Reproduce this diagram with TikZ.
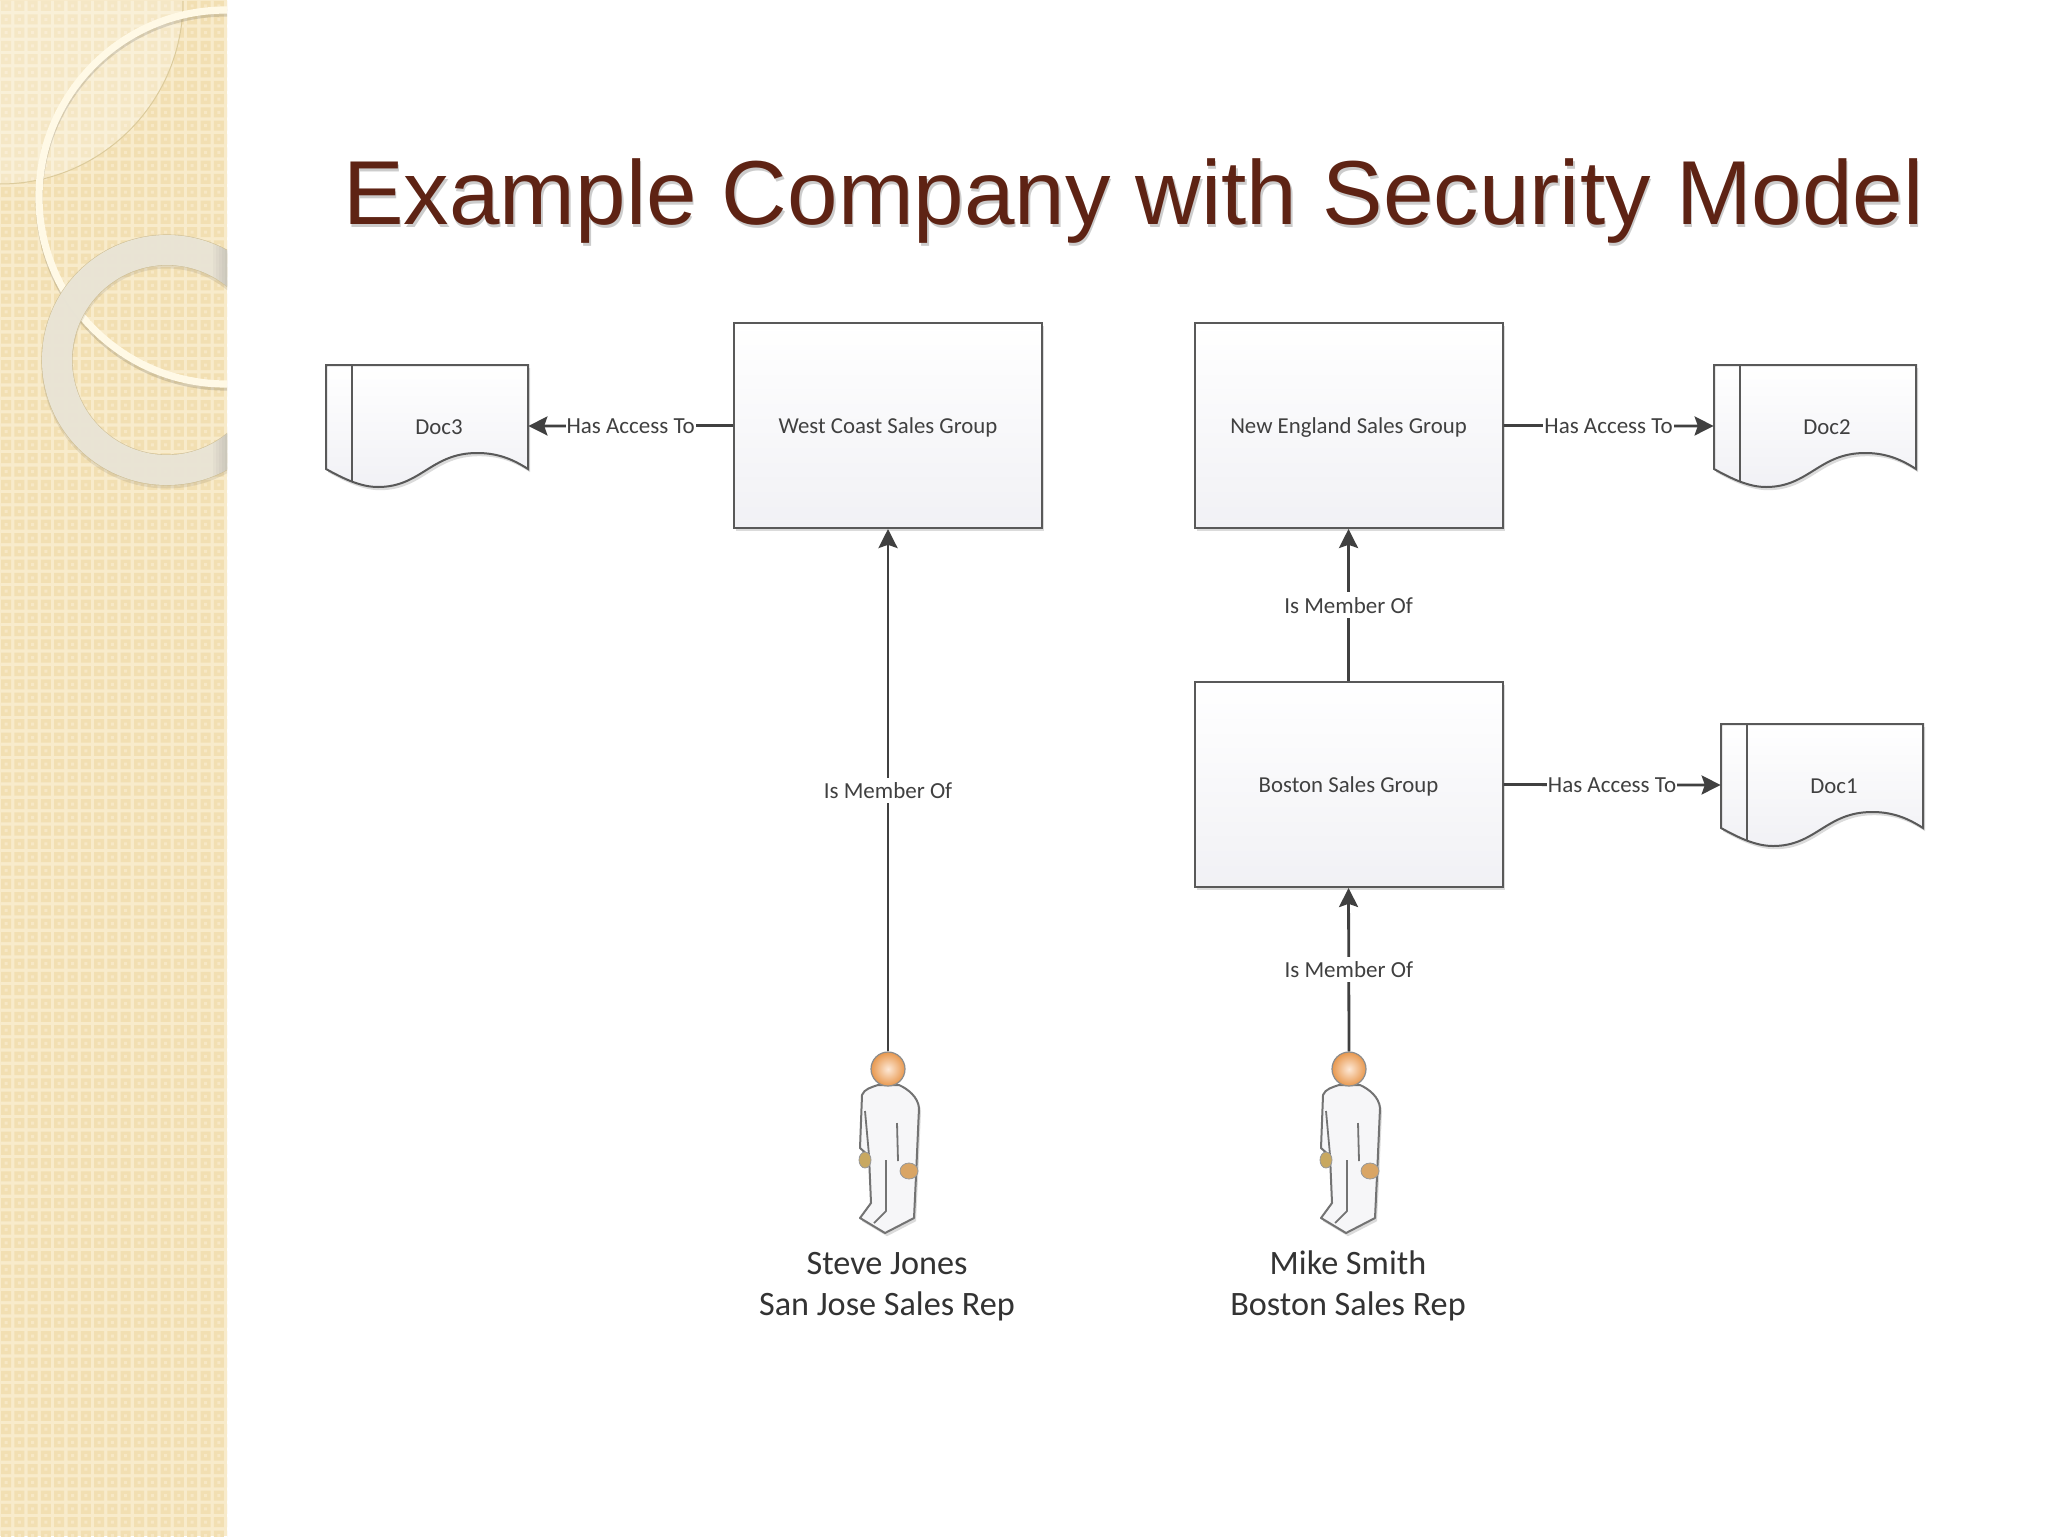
\documentclass[tikz,border=0pt]{standalone}
\usepackage{fontspec}
\setmainfont{Carlito}
\newfontfamily\titlefont{Liberation Sans}
\usetikzlibrary{arrows.meta,shadows}
\definecolor{panelbase}{HTML}{F8EBCB}
\definecolor{paneldark}{HTML}{F2DFB2}
\definecolor{panelin}{HTML}{F7E8C6}
\definecolor{titlecol}{HTML}{5E2314}
\definecolor{inkcol}{HTML}{404040}
\definecolor{edgecol}{HTML}{595959}
\definecolor{ringcol}{HTML}{ECE8DB}
\definecolor{ringedge}{HTML}{CDBE96}
\definecolor{lensedge}{HTML}{DCCB9C}
\definecolor{thinring}{HTML}{FFF9E6}
\definecolor{boxlow}{HTML}{F1F1F5}
\definecolor{headin}{HTML}{FDE8D6}
\definecolor{headout}{HTML}{E8984E}
\definecolor{suit}{HTML}{F6F6F8}
\definecolor{handl}{HTML}{C8A860}
\definecolor{handr}{HTML}{D9A565}
\tikzset{
  x=0.5pt,y=-0.5pt,
  softshadow/.style={general shadow={shadow xshift=1pt,shadow yshift=-1.6pt,fill=black,opacity=.14}},
  groupbox/.style={draw=edgecol,line width=1pt,minimum width=154pt,minimum height=102.5pt,inner sep=0pt,
    top color=white,bottom color=boxlow,softshadow,text=inkcol,text height=10.4pt,text depth=2.3pt,
    font=\fontsize{11.4}{13}\selectfont},
  docanchor/.style={minimum width=101pt,minimum height=61pt,inner sep=0pt},
  docbody/.style={draw=edgecol,line width=1pt,top color=white,bottom color=boxlow,softshadow},
  doctext/.style={text=inkcol,font=\fontsize{11.4}{13}\selectfont,inner sep=0pt,text height=10.4pt,text depth=2.3pt},
  linktext/.style={fill=white,text=inkcol,font=\fontsize{11.5}{13}\selectfont,inner xsep=.5pt,inner ysep=0pt,
    text height=10.4pt,text depth=2.3pt},
  link/.style={draw=inkcol,line width=1.4pt,-{Stealth[length=9.5pt,width=9.5pt,inset=1.6pt]}},
  namelabel/.style={align=center,text=black!80,font=\fontsize{17.1}{20.5}\selectfont,inner sep=0pt},
  personhead/.style={circle,minimum size=17pt,inner sep=0pt,draw=black!45,line width=.6pt,
    inner color=headin,outer color=headout},
  personbody/.style={draw=black!55,line width=1pt,fill=suit,line join=round},
  personline/.style={draw=black!55,line width=.9pt,line join=round},
}
\newcommand\docfig[4]{%
  \path[docbody,shift={(#2,#3)}] (0,0) -- (202,0) -- (202,104)
    .. controls (185,93) and (170,88) .. (151,88)
    .. controls (105,88) and (95,122) .. (52,122)
    .. controls (35,122) and (18,114) .. (0,104) -- cycle;
  \draw[draw=edgecol,line width=1pt,shift={(#2,#3)}] (26,0) -- (26,117);
  \node[docanchor] (#1) at (#2+101,#3+61) {};
  \node[doctext] (#1text) at (#2+113,#3+61) {#4};
}
\newcommand\personfig[3]{%
  \begin{scope}[shift={(#2,#3)}]
    \path[personbody,softshadow] (-10,16) .. controls (-16,18) and (-24,20) .. (-26,26) -- (-28,79) -- (-19,87) -- (-17,134) -- (-28,149)
      -- (-3,164) -- (26,149) -- (28,107) -- (31,39) .. controls (30,28) and (20,20) .. (11,16) -- cycle;
    \draw[personline] (-23,42) -- (-19,86);
    \draw[personline] (9,54) -- (10,92);
    \draw[personline] (-2,91) -- (-2,142) -- (-14,154);
    \fill[handl,draw=black!40,line width=.4pt] (-23,91) ellipse [x radius=6,y radius=8];
    \fill[handr,draw=black!40,line width=.4pt] (21,102) ellipse [x radius=9,y radius=8];
    \node[personhead] (#1) at (0,0) {};
  \end{scope}
}
\begin{document}
\begin{tikzpicture}
\useasboundingbox (0,0) rectangle (2048,1536);
\fill[white] (0,0) rectangle (2048,1536);
% panel
\fill[panelbase] (0,0) rectangle (227,1536);
\begin{scope}
  \clip (0,0) rectangle (227,1536);
  \fill[paneldark]
    \foreach \i in {0,...,17}{\foreach \j in {0,...,115}{
      ({\i*13.3+1},{\j*13.3+1}) rectangle +(10,10)}};
  \fill[panelin]
    \foreach \i in {0,...,17}{\foreach \j in {0,...,115}{
      ({\i*13.3+4.5},{\j*13.3+4.5}) rectangle +(3,3)}};
  % translucent quarter disc
  \fill[white,opacity=.25] (0,1) -- (183,1) arc[start angle=0,end angle=90,radius=183] -- cycle;
  \draw[lensedge,line width=.5pt] (183,1) arc[start angle=0,end angle=90,radius=183];
  % thin ring
  \draw[black,opacity=.13,line width=3.6pt] (226,200) circle [radius=187];
  \draw[thinring,line width=3.6pt] (226,197) circle [radius=187];
  % wide ring
  \draw[black,opacity=.08,line width=15.5pt] (167,363) circle [radius=110];
  \draw[ringedge,line width=15.6pt,opacity=.9] (167,360) circle [radius=110];
  \draw[ringcol,line width=15pt,opacity=.9] (167,360) circle [radius=110];
  \foreach \xo in {213,216,219,222,225}{
    \begin{scope}
      \clip (\xo,200) rectangle (227,520);
      \draw[black,opacity=.025,line width=15pt] (167,360) circle [radius=110];
    \end{scope}}
\end{scope}
% title
\node[anchor=base west,inner sep=0pt,text=black,opacity=.2,font=\titlefont\fontsize{45.42}{50}\selectfont] (titleshadow) at (344.5,227) {Example Company with Security Model};
\node[anchor=base west,inner sep=0pt,text=titlecol,font=\titlefont\fontsize{45.42}{50}\selectfont] (title) at (343,224) {Example Company with Security Model};
% groups
\node[groupbox] (west) at (888,425.5) {West Coast Sales Group};
\node[groupbox] (newengland) at (1348.5,425.5) {New England Sales Group};
\node[groupbox] (boston) at (1348.5,784.5) {Boston Sales Group};
% documents
\docfig{doca}{326}{365}{Doc3}
\docfig{docb}{1714}{365}{Doc2}
\docfig{docc}{1721}{724}{Doc1}
% people
\personfig{steve}{888}{1069}
\personfig{mike}{1349}{1069}
\node[namelabel] (stevename) at (887,1287) {\strut Steve Jones\\\strut San Jose Sales Rep};
\node[namelabel] (mikename) at (1348,1287) {\strut Mike Smith\\\strut Boston Sales Rep};
% connectors
\draw[link] (west.west) -- node[linktext] (l1) {Has Access To} (doca.east);
\draw[link] (newengland.east) -- node[linktext] (l2) {Has Access To} (docb.west);
\draw[link] (boston.east) -- node[linktext] (l3) {Has Access To} (docc.west);
\draw[link] (boston.north) -- node[linktext] (l4) {Is Member Of} (newengland.south);
\draw[link] (steve.north) -- node[linktext] (l5) {Is Member Of} (west.south);
\draw[link] (mike.north) -- node[linktext] (l6) {Is Member Of} (boston.south);
\end{tikzpicture}
\end{document}
